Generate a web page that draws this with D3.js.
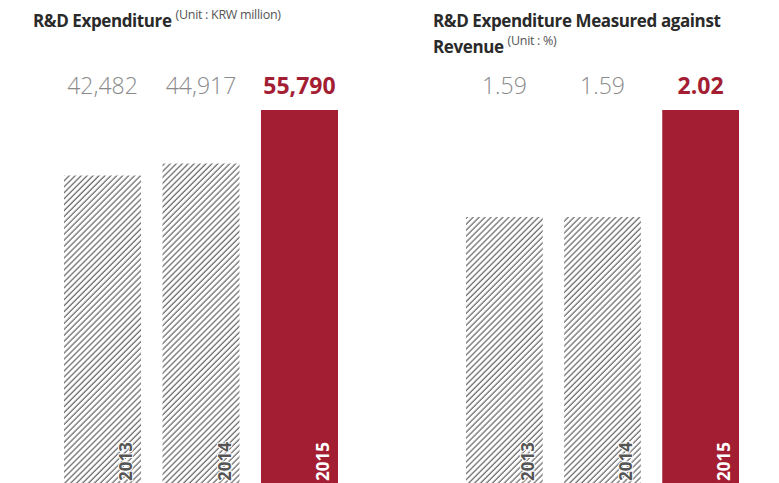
<!DOCTYPE html>
<html>
<head>
<meta charset="utf-8">
<script src="https://cdn.jsdelivr.net/npm/d3@7"></script>
<style>
  body { margin: 0; background: #fff; }
  svg { display: block; font-family: "Open Sans", "Noto Sans", sans-serif; }
</style>
</head>
<body>
<div id="chart"></div>
<script>
// données
const years = ["2013", "2014", "2015"];
const expenditure = [42482, 44917, 55790];
const ratio = [1.59, 1.59, 2.02];
const expenditureLabels = ["42,482", "44,917", "55,790"];
const ratioLabels = ["1.59", "1.59", "2.02"];

const width = 779, height = 483;
const red = "#a31d33";

const svg = d3.select("#chart").append("svg")
    .attr("width", width).attr("height", height);

// motif hachuré
const defs = svg.append("defs");
defs.append("pattern")
    .attr("id", "hatch")
    .attr("patternUnits", "userSpaceOnUse")
    .attr("width", 4.2).attr("height", 4.2)
    .attr("patternTransform", "rotate(45)")
    .append("line")
    .attr("x1", 1).attr("y1", 0).attr("x2", 1).attr("y2", 4.2)
    .attr("stroke", "#555").attr("stroke-width", 1.1);

function drawPanel(opts) {
    const g = svg.append("g");

    const x = d3.scaleBand()
        .domain(years)
        .range(opts.xRange)
        .paddingInner(0.218)
        .paddingOuter(0);

    const y = d3.scaleLinear()
        .domain(opts.yDomain)
        .range([height, 110]);

    g.selectAll("rect.bar")
        .data(years)
        .join("rect")
        .attr("class", "bar")
        .attr("x", d => x(d))
        .attr("width", x.bandwidth())
        .attr("y", (d, i) => y(opts.values[i]))
        .attr("height", (d, i) => height - y(opts.values[i]))
        .attr("fill", (d, i) => i === 2 ? red : "url(#hatch)");

    // valeurs
    g.selectAll("text.val")
        .data(years)
        .join("text")
        .attr("class", "val")
        .attr("x", d => x(d) + x.bandwidth() / 2)
        .attr("y", 94)
        .attr("text-anchor", "middle")
        .style("font-size", "23px")
        .style("font-weight", (d, i) => i === 2 ? 700 : 300)
        .style("fill", (d, i) => i === 2 ? red : "#8a8a8a")
        .text((d, i) => opts.labels[i]);

    // années (verticales)
    g.selectAll("text.year")
        .data(years)
        .join("text")
        .attr("class", "year")
        .attr("transform", d => `translate(${x(d) + x.bandwidth() - 9},${height - 2}) rotate(-90)`)
        .attr("text-anchor", "start")
        .style("font-size", "17px")
        .style("font-weight", 700)
        .style("fill", (d, i) => i === 2 ? "#fff" : "#555")
        .style("paint-order", "stroke")
        .style("stroke", (d, i) => i === 2 ? "none" : "#fff")
        .style("stroke-width", 2)
        .text(d => d);

    // titre
    const t = g.append("text")
        .attr("x", opts.titleX)
        .style("fill", "#2a2a2a")
        .style("font-size", "17px")
        .style("font-weight", 700);
    opts.titleLines.forEach((line, i) => {
        const last = i === opts.titleLines.length - 1;
        t.append("tspan")
            .attr("x", opts.titleX)
            .attr("y", 27 + i * 26)
            .style("letter-spacing", "-0.4px")
            .text(line + (last ? " " : ""));
        if (last) {
            t.append("tspan")
                .attr("dy", -8)
                .style("font-size", "12.5px")
                .style("font-weight", 400)
                .style("fill", "#555")
                .style("letter-spacing", "-0.3px")
                .text(opts.unit);
        }
    });
}

drawPanel({
    xRange: [64, 338],
    yDomain: [-20000, 55790],
    values: expenditure,
    labels: expenditureLabels,
    titleX: 33,
    titleLines: ["R&D Expenditure"],
    unit: "(Unit : KRW million)"
});

drawPanel({
    xRange: [466, 739],
    yDomain: [0.521, 2.02],
    values: ratio,
    labels: ratioLabels,
    titleX: 433,
    titleLines: ["R&D Expenditure Measured against", "Revenue"],
    unit: "(Unit : %)"
});
</script>
</body>
</html>
